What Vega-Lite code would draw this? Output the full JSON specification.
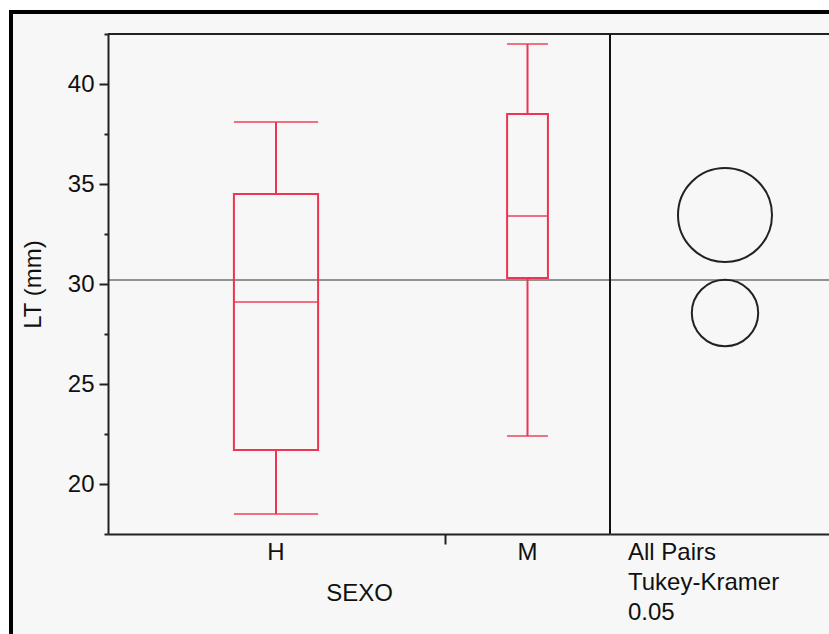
{
  "$schema": "https://vega.github.io/schema/vega-lite/v6.json",
  "width": 721,
  "height": 500,
  "autosize": "none",
  "padding": {"left": 108, "top": 34, "right": 0, "bottom": 100},
  "background": "white",
  "config": {
    "font": "Arial, Liberation Sans, sans-serif",
    "view": {"stroke": null},
    "axis": {
      "grid": false,
      "labelFont": "Arial, Liberation Sans, sans-serif",
      "titleFont": "Arial, Liberation Sans, sans-serif",
      "labelFontSize": 24,
      "titleFontSize": 24,
      "titleFontWeight": "normal",
      "labelColor": "#111",
      "titleColor": "#111",
      "domainColor": "#222",
      "domainWidth": 2,
      "tickColor": "#222",
      "tickWidth": 2
    }
  },
  "datasets": {
    "lt_by_sexo": [
      {"SEXO": "H", "n": 33, "min": 18.5, "q1": 21.7, "median": 29.1, "q3": 34.5, "max": 38.1, "mean": 28.55, "ci_radius": 1.66},
      {"SEXO": "M", "n": 16, "min": 22.4, "q1": 30.3, "median": 33.4, "q3": 38.5, "max": 42.0, "mean": 33.45, "ci_radius": 2.35}
    ]
  },
  "data": {"name": "lt_by_sexo"},
  "resolve": {"scale": {"x": "independent", "y": "independent"}},
  "layer": [
    {
      "description": "report frame: grey panel with a heavy black outline",
      "data": {"values": [{}]},
      "mark": {"type": "rect", "fill": "#f7f7f7", "stroke": "#000", "strokeWidth": 4},
      "encoding": {
        "x": {"datum": 0, "type": "quantitative", "scale": {"domain": [0, 1], "range": [-97, 740]}, "axis": null},
        "x2": {"datum": 1},
        "y": {"datum": 1, "type": "quantitative", "scale": {"domain": [0, 1], "range": [620, -22]}, "axis": null},
        "y2": {"datum": 0}
      }
    },
    {
      "resolve": {"scale": {"x": "independent", "size": "independent"}},
      "layer": [
        {
          "description": "top edge of the plot frame",
          "data": {"values": [{}]},
          "mark": {"type": "rule", "color": "#222", "strokeWidth": 2},
          "encoding": {
            "y": {"datum": 42.5, "type": "quantitative", "title": "LT (mm)", "scale": {"domain": [17.5, 42.5], "nice": false, "zero": false}}
          }
        },
        {
          "description": "grand mean",
          "data": {"values": [{"grand_mean": 30.2}]},
          "mark": {"type": "rule", "color": "#707070", "strokeWidth": 1.5},
          "encoding": {
            "y": {"field": "grand_mean", "type": "quantitative", "title": "LT (mm)", "scale": {"domain": [17.5, 42.5], "nice": false, "zero": false}}
          }
        },
        {
          "description": "box plots per SEXO",
          "encoding": {
            "x": {
              "field": "SEXO",
              "type": "nominal",
              "scale": {"type": "band", "domain": ["H", "M"], "range": [0, 502], "paddingInner": 0.344, "paddingOuter": 0.17, "align": 1},
              "axis": {
                "orient": "bottom",
                "zindex": 2,
                "ticks": false,
                "labelAngle": 0,
                "labelPadding": 6,
                "title": "SEXO",
                "titlePadding": 17
              }
            }
          },
          "layer": [
            {
              "mark": {"type": "rule", "color": "#ee3450", "strokeWidth": 2},
              "encoding": {
                "y": {
                  "field": "min",
                  "type": "quantitative",
                  "title": "LT (mm)",
                  "scale": {"domain": [17.5, 42.5], "nice": false, "zero": false},
                  "axis": {
                    "orient": "left",
                    "zindex": 2,
                    "values": [17.5, 20, 22.5, 25, 27.5, 30, 32.5, 35, 37.5, 40, 42.5],
                    "labelExpr": "datum.value % 5 === 0 ? datum.label : ''",
                    "tickSize": {"condition": {"test": "datum.value % 5 === 0", "value": 9}, "value": 4},
                    "labelPadding": 5,
                    "titlePadding": 22
                  }
                },
                "y2": {"field": "q1"}
              }
            },
            {
              "mark": {"type": "rule", "color": "#ee3450", "strokeWidth": 2},
              "encoding": {
                "y": {"field": "q3", "type": "quantitative", "title": "LT (mm)", "scale": {"domain": [17.5, 42.5], "nice": false, "zero": false}},
                "y2": {"field": "max"}
              }
            },
            {
              "mark": {"type": "bar", "filled": false, "color": "#ee3450", "strokeWidth": 2},
              "encoding": {
                "y": {"field": "q1", "type": "quantitative", "title": "LT (mm)", "scale": {"domain": [17.5, 42.5], "nice": false, "zero": false}},
                "y2": {"field": "q3"},
                "size": {"field": "n", "type": "quantitative", "scale": {"domain": [0, 49], "range": [0, 125]}, "legend": null}
              }
            },
            {
              "mark": {"type": "tick", "color": "#ee3450", "thickness": 2},
              "encoding": {
                "y": {"field": "median", "type": "quantitative", "title": "LT (mm)", "scale": {"domain": [17.5, 42.5], "nice": false, "zero": false}},
                "size": {"field": "n", "type": "quantitative", "scale": {"domain": [0, 49], "range": [0, 125]}, "legend": null}
              }
            },
            {
              "mark": {"type": "tick", "color": "#ee3450", "thickness": 2},
              "encoding": {
                "y": {"field": "min", "type": "quantitative", "title": "LT (mm)", "scale": {"domain": [17.5, 42.5], "nice": false, "zero": false}},
                "size": {"field": "n", "type": "quantitative", "scale": {"domain": [0, 49], "range": [0, 125]}, "legend": null}
              }
            },
            {
              "mark": {"type": "tick", "color": "#ee3450", "thickness": 2},
              "encoding": {
                "y": {"field": "max", "type": "quantitative", "title": "LT (mm)", "scale": {"domain": [17.5, 42.5], "nice": false, "zero": false}},
                "size": {"field": "n", "type": "quantitative", "scale": {"domain": [0, 49], "range": [0, 125]}, "legend": null}
              }
            }
          ]
        },
        {
          "description": "panel divider after the last group, with the group-boundary tick",
          "transform": [{"filter": "datum.SEXO === 'M'"}],
          "mark": {"type": "rule", "color": "#111", "strokeWidth": 2},
          "encoding": {
            "x": {
              "field": "SEXO",
              "type": "nominal",
              "bandPosition": 1,
              "scale": {"type": "band", "domain": ["H", "M"], "range": [0, 502], "paddingInner": 0.344, "paddingOuter": 0.17, "align": 1},
              "axis": {
                "orient": "bottom",
                "zindex": 2,
                "bandPosition": 0,
                "values": ["M"],
                "labels": false,
                "domain": false,
                "ticks": true,
                "tickSize": 10,
                "title": null
              }
            }
          }
        },
        {
          "description": "Tukey-Kramer comparison circles",
          "mark": {"type": "point", "shape": "circle", "filled": false, "color": "#222", "strokeWidth": 2, "opacity": 1},
          "encoding": {
            "x": {
              "datum": "All Pairs|Tukey-Kramer|0.05",
              "type": "nominal",
              "scale": {"type": "band", "domain": ["All Pairs|Tukey-Kramer|0.05"], "range": [502, 732], "paddingInner": 0, "paddingOuter": 0},
              "axis": {
                "orient": "bottom",
                "zindex": 2,
                "ticks": false,
                "labelAngle": 0,
                "labelExpr": "split(datum.label, '|')",
                "labelAlign": "left",
                "labelOffset": -97,
                "labelLineHeight": 30,
                "labelPadding": 6,
                "labelLimit": 400,
                "title": null
              }
            },
            "y": {"field": "mean", "type": "quantitative", "title": "LT (mm)", "scale": {"domain": [17.5, 42.5], "nice": false, "zero": false}},
            "size": {"field": "ci_radius", "type": "quantitative", "scale": {"type": "pow", "exponent": 2, "domain": [0, 2.5], "range": [0, 10000]}, "legend": null}
          }
        }
      ]
    }
  ]
}
